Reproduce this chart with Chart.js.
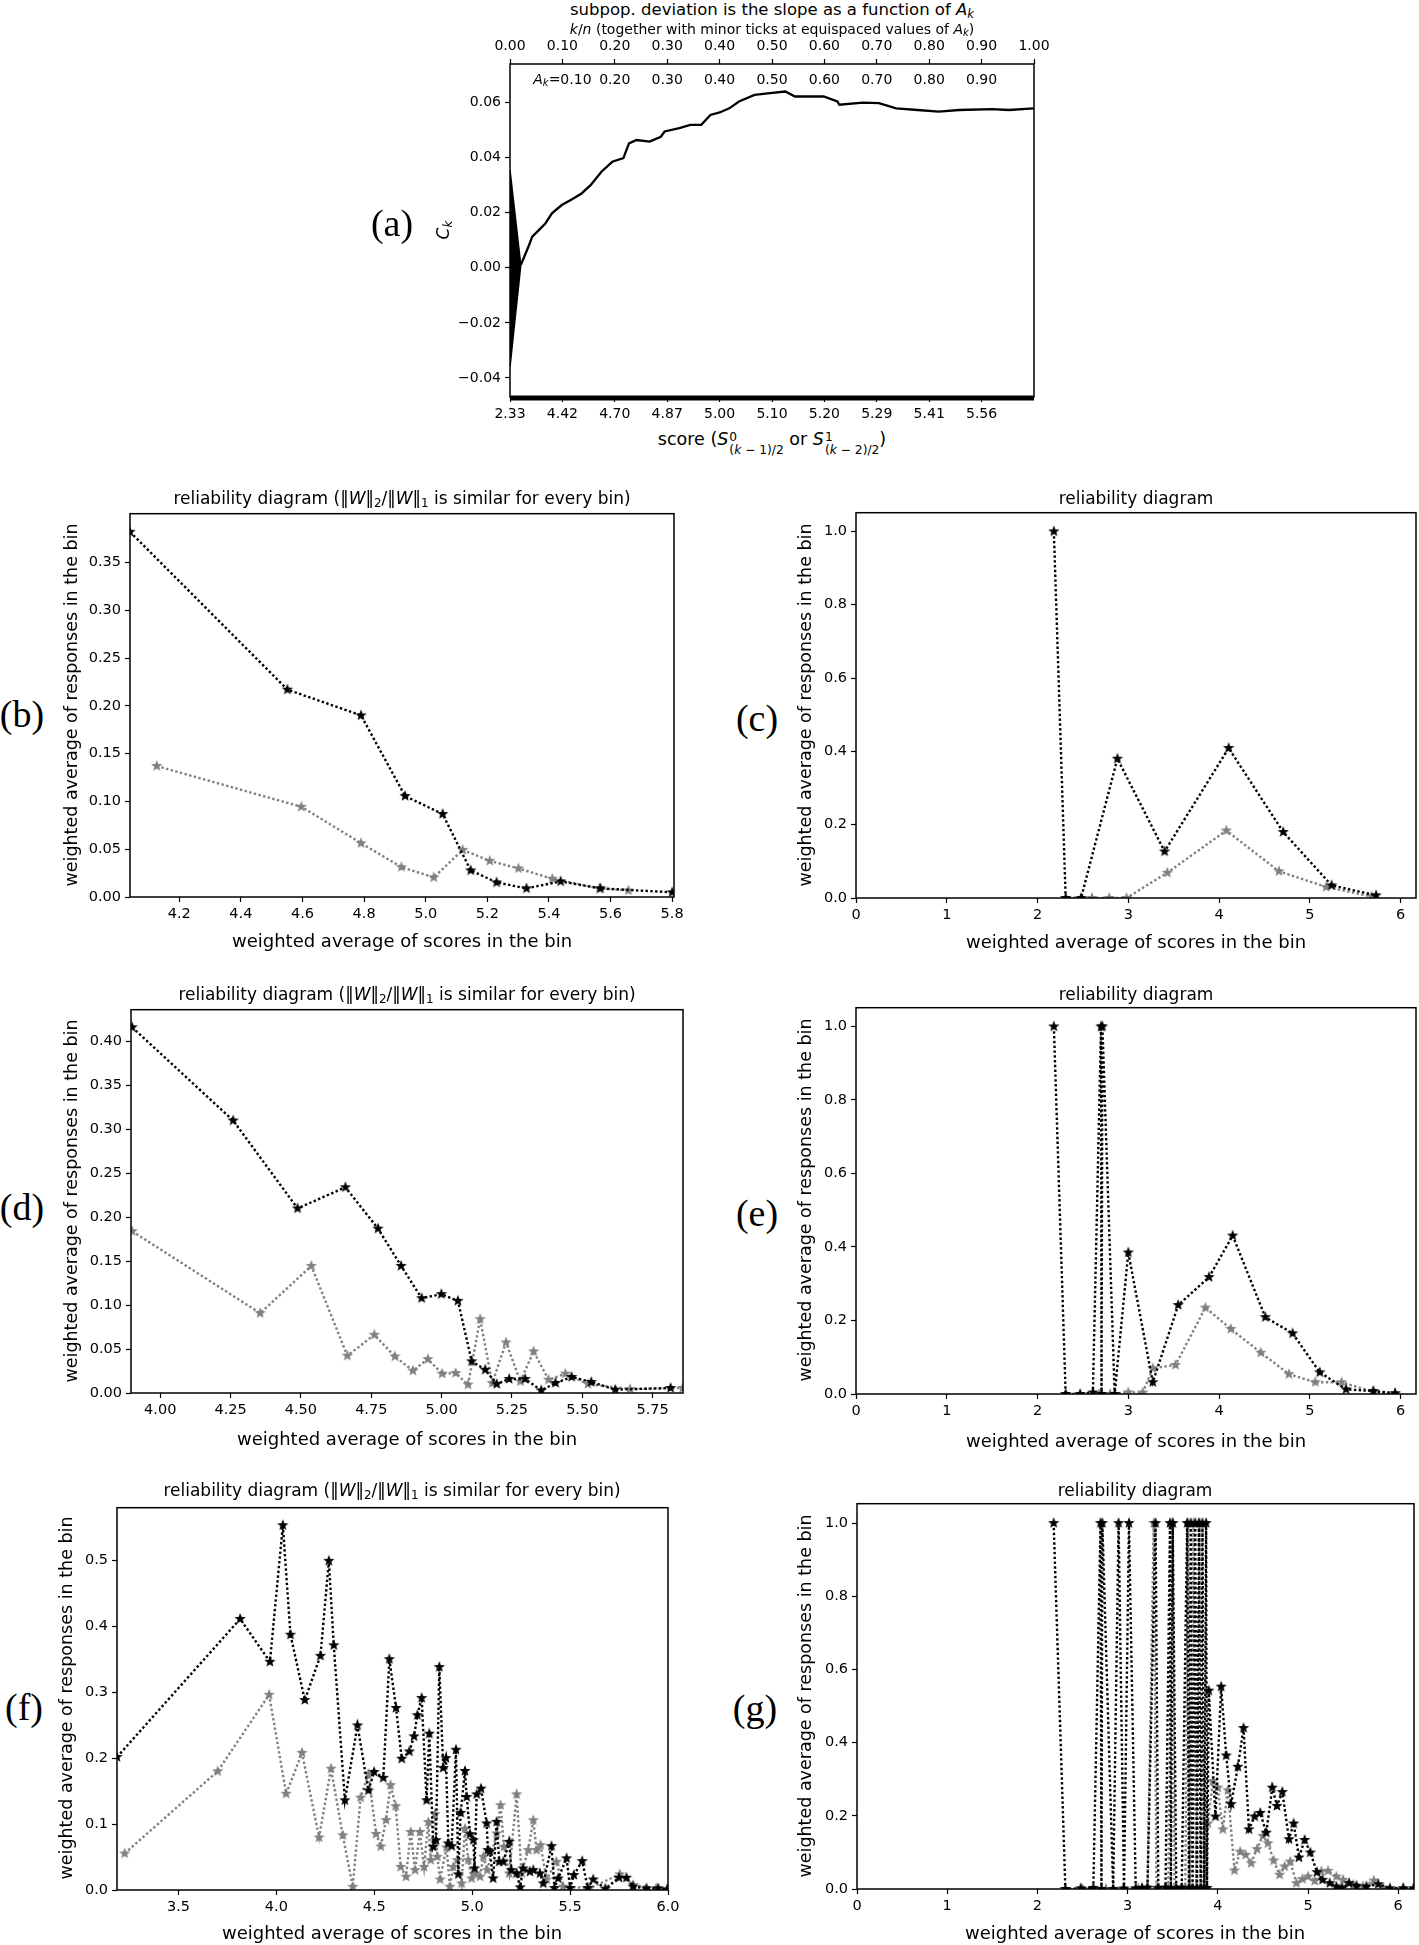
<!DOCTYPE html>
<html>
<head>
<meta charset="utf-8">
<title>subpopulation deviation and reliability diagrams</title>
<script src="https://cdn.jsdelivr.net/npm/chart.js@4.4.1/dist/chart.umd.min.js"></script>
<style>
  html, body { margin: 0; padding: 0; background: #fff; }
  #page { position: relative; width: 1419px; height: 1945px; overflow: hidden; font-family: "DejaVu Sans", sans-serif; color: #000; }
  #page canvas { position: absolute; }
  .txt { position: absolute; white-space: nowrap; line-height: 1; transform: translate(-50%, -50%); }
  .rot { transform: translate(-50%, -50%) rotate(-90deg); }
  .tag { font-family: "Liberation Serif", "DejaVu Serif", serif; font-size: 38px; }
  .sub { font-size: 0.7em; vertical-align: -0.28em; }
  .ss { display: inline-flex; flex-direction: column; font-size: 0.7em; line-height: 1; vertical-align: 0.3em; margin-left: 1px; }
</style>
</head>
<body>
<div id="page"></div>
<script>
// ---- (a) cumulative plot ----
const aKn = [0.0206, 0.0363, 0.0425, 0.055, 0.0675, 0.08, 0.0988, 0.1193, 0.1366, 0.1538, 0.1745, 0.1952,
  0.2164, 0.2271, 0.2414, 0.2664, 0.2879, 0.295, 0.3231, 0.3441, 0.365, 0.3825, 0.4, 0.4185, 0.437, 0.4667,
  0.4963, 0.5255, 0.5438, 0.5693, 0.5985, 0.6248, 0.6286, 0.6737, 0.7041, 0.7369, 0.7779, 0.818, 0.857,
  0.92, 0.952, 1.0];
const aCk = [0.001, 0.0082, 0.0113, 0.0137, 0.0161, 0.0198, 0.0228, 0.025, 0.027, 0.030, 0.0349, 0.0385,
  0.0398, 0.0452, 0.0464, 0.0458, 0.0476, 0.0495, 0.0507, 0.0519, 0.0519, 0.0555, 0.0564, 0.0579, 0.0604, 0.0628,
  0.0634, 0.064, 0.0622, 0.0622, 0.0622, 0.0604, 0.0592, 0.06, 0.0598, 0.0579, 0.0573, 0.0567, 0.0573,
  0.0576, 0.0573, 0.0579];
// the dense oscillation at the very start shows as a solid wedge
const aWedgeKn = [0, 0.0206];
const aWedgeTop = [0.0355, 0.001];
const aWedgeBottom = [-0.036, 0.001];
const aTopTicks = [0, 0.1, 0.2, 0.3, 0.4, 0.5, 0.6, 0.7, 0.8, 0.9, 1.0];
const aBottomTicks = [0, 0.1, 0.2, 0.3, 0.4, 0.5, 0.6, 0.7, 0.8, 0.9];
const aBottomLabels = ['2.33', '4.42', '4.70', '4.87', '5.00', '5.10', '5.20', '5.29', '5.41', '5.56'];
const aMinorPos = [0.1, 0.2, 0.3, 0.4, 0.5, 0.6, 0.7, 0.8, 0.9];
const aMinorLabels = ['0.10', '0.20', '0.30', '0.40', '0.50', '0.60', '0.70', '0.80', '0.90'];
const aYTicks = [-0.04, -0.02, 0, 0.02, 0.04, 0.06];

// ---- (b) ----
const bBlackX = [4.04, 4.551, 4.79, 4.933, 5.055, 5.146, 5.230, 5.327, 5.438, 5.567, 5.80];
const bBlackY = [0.382, 0.217, 0.190, 0.1056, 0.0868, 0.0278, 0.0153, 0.009, 0.0163, 0.009, 0.0049];
const bGrayX = [4.127, 4.596, 4.79, 4.921, 5.026, 5.12, 5.208, 5.301, 5.411, 5.564, 5.658];
const bGrayY = [0.137, 0.0944, 0.0563, 0.0313, 0.0205, 0.0493, 0.0378, 0.0299, 0.0191, 0.009, 0.0069];
const bTicksX = [4.2, 4.4, 4.6, 4.8, 5.0, 5.2, 5.4, 5.6, 5.8];
const bTicksY = [0, 0.05, 0.10, 0.15, 0.20, 0.25, 0.30, 0.35];

// ---- (c) ----
const cBlackX = [2.18, 2.31, 2.48, 2.88, 3.40, 4.106, 4.707, 5.24, 5.73];
const cBlackY = [1.0, 0.0, 0.0, 0.38, 0.127, 0.409, 0.18, 0.0345, 0.0073];
const cGrayX = [2.60, 2.79, 2.98, 3.43, 4.08, 4.66, 5.18, 5.68];
const cGrayY = [0.0, 0.0, 0.0, 0.069, 0.184, 0.073, 0.030, 0.0045];

// ---- (d) ----
const dBlackX = [3.90, 4.259, 4.488, 4.658, 4.774, 4.856, 4.929, 4.999, 5.058, 5.107, 5.155, 5.196, 5.24,
  5.297, 5.354, 5.405, 5.462, 5.532, 5.617, 5.814];
const dBlackY = [0.416, 0.310, 0.210, 0.234, 0.187, 0.1446, 0.1079, 0.1124, 0.1048, 0.036, 0.0265, 0.0102,
  0.0159, 0.0159, 0.003, 0.0114, 0.0182, 0.0125, 0.0038, 0.0057];
const dGrayX = [3.90, 4.355, 4.537, 4.665, 4.761, 4.834, 4.898, 4.951, 5.002, 5.05, 5.094, 5.137, 5.18, 5.229,
  5.28, 5.327, 5.38, 5.44, 5.52, 5.67, 5.857];
const dGrayY = [0.184, 0.0908, 0.1446, 0.0424, 0.0662, 0.0416, 0.0254, 0.0386, 0.022, 0.0227, 0.0095, 0.084,
  0.0114, 0.0575, 0.0132, 0.0473, 0.0151, 0.022, 0.0102, 0.0045, 0.0057];
const dTicksX = [4.00, 4.25, 4.50, 4.75, 5.00, 5.25, 5.50, 5.75];
const dTicksY = [0, 0.05, 0.10, 0.15, 0.20, 0.25, 0.30, 0.35, 0.40];

// ---- (e) ----
const eBlackX = [2.18, 2.31, 2.47, 2.61, 2.70, 2.705, 2.715, 2.85, 3.00, 3.27, 3.55, 3.89, 4.15, 4.51, 4.81,
  5.11, 5.40, 5.70, 5.94];
const eBlackY = [1.0, 0.0, 0.0, 0.004, 1.0, 0.0, 1.0, 0.0, 0.385, 0.032, 0.242, 0.318, 0.431, 0.209, 0.165,
  0.059, 0.0127, 0.008, 0.002];
const eGrayX = [2.68, 2.80, 3.00, 3.16, 3.27, 3.52, 3.85, 4.13, 4.46, 4.77, 5.06, 5.35, 5.70, 5.94];
const eGrayY = [0.0, 0.0, 0.0045, 0.004, 0.07, 0.079, 0.235, 0.177, 0.1125, 0.054, 0.032, 0.032, 0.006, 0.002];

// ---- (f) ----
const fBlackX = [3.186, 3.815, 3.967, 4.033, 4.072, 4.145, 4.225, 4.268, 4.293, 4.35, 4.414, 4.47, 4.499,
  4.546, 4.577, 4.611, 4.64, 4.679, 4.703, 4.72, 4.742, 4.767, 4.781, 4.801, 4.815, 4.832, 4.852, 4.866,
  4.878, 4.895, 4.917, 4.929, 4.941, 4.963, 4.972, 4.989, 5.006, 5.012, 5.023, 5.045, 5.074, 5.080, 5.09,
  5.107, 5.125, 5.138, 5.159, 5.189, 5.2, 5.227, 5.245, 5.26, 5.295, 5.312, 5.346, 5.363, 5.405, 5.42,
  5.439, 5.482, 5.50, 5.519, 5.562, 5.59, 5.618, 5.68, 5.75, 5.788, 5.822, 5.89, 5.95, 5.995];
const fBlackY = [0.2016, 0.411, 0.346, 0.553, 0.387, 0.288, 0.355, 0.499, 0.371, 0.136, 0.2495, 0.151, 0.179,
  0.170, 0.350, 0.276, 0.199, 0.210, 0.233, 0.265, 0.291, 0.136, 0.237, 0.0655, 0.0756, 0.338, 0.185, 0.2,
  0.0706, 0.0665, 0.2127, 0.0237, 0.117, 0.1805, 0.141, 0.0847, 0.0756, 0.0327, 0.145, 0.1537, 0.101, 0.0605, 0.058,
  0.0176, 0.1033, 0.0428, 0.0428, 0.073, 0.0302, 0.0252, 0.004, 0.0327, 0.0277, 0.0302, 0.0252, 0.01, 0.0665, 0.003,
  0.0176, 0.048, 0.003, 0.0227, 0.0438, 0.003, 0.016, 0.002, 0.0186, 0.0186, 0.005, 0.0025, 0.0025, 0.001];
const fGrayX = [3.225, 3.70, 3.963, 4.05, 4.131, 4.218, 4.279, 4.339, 4.39, 4.43, 4.47, 4.509, 4.533, 4.56,
  4.583, 4.609, 4.635, 4.662, 4.686, 4.708, 4.733, 4.754, 4.776, 4.788, 4.81, 4.822, 4.836, 4.869, 4.886,
  4.903, 4.924, 4.946, 4.963, 4.98, 4.997, 5.014, 5.04, 5.057, 5.077, 5.125, 5.145, 5.162, 5.189, 5.227,
  5.252, 5.286, 5.312, 5.329, 5.349, 5.38, 5.43, 5.465, 5.60, 5.754, 5.822, 5.94];
const fGrayY = [0.0554, 0.18, 0.296, 0.146, 0.208, 0.0796, 0.184, 0.083, 0.005, 0.14, 0.176, 0.085, 0.066, 0.106,
  0.159, 0.127, 0.035, 0.0202, 0.088, 0.0302, 0.088, 0.035, 0.103, 0.0453, 0.115, 0.0504, 0.016, 0.0645, 0.005,
  0.035, 0.0453, 0.01, 0.093, 0.0453, 0.0176, 0.0252, 0.0202, 0.0504, 0.0302, 0.0857, 0.1285, 0.0655, 0.0252, 0.145,
  0.0252, 0.0605, 0.1058, 0.0605, 0.068, 0.016, 0.0428, 0.005, 0.003, 0.0237, 0.0076, 0.0025];
const fTicksX = [3.5, 4.0, 4.5, 5.0, 5.5, 6.0];
const fTicksY = [0, 0.1, 0.2, 0.3, 0.4, 0.5];

// ---- (g) ----
const gBlackX = [2.18, 2.31, 2.48, 2.62, 2.70, 2.71, 2.72, 2.84, 2.90, 2.96, 3.015, 3.09, 3.16, 3.22, 3.31,
  3.34, 3.42, 3.47, 3.48, 3.50, 3.54, 3.60, 3.66, 3.68, 3.70, 3.72, 3.75, 3.77, 3.79, 3.81, 3.83, 3.85, 3.87,
  3.88, 3.90, 3.974, 4.037, 4.093, 4.148, 4.222, 4.285, 4.345, 4.408, 4.47, 4.537, 4.604, 4.656, 4.715, 4.789,
  4.841, 4.9, 4.963, 5.026, 5.1, 5.16, 5.241, 5.315, 5.38, 5.456, 5.537, 5.648, 5.778, 5.908, 6.056, 6.17];
const gBlackY = [1.0, 0.0, 0.002, 0.003, 1.0, 0.0, 1.0, 0.0, 1.0, 0.001, 1.0, 0.002, 0.003, 0.004, 1.0,
  0.003, 0.004, 1.0, 0.002, 1.0, 0.003, 0.004, 1.0, 0.002, 1.0, 0.003, 1.0, 0.002, 1.0, 0.003, 1.0, 0.002, 1.0,
  0.003, 0.542, 0.198, 0.553, 0.365, 0.232, 0.334, 0.440, 0.163, 0.198, 0.208, 0.154, 0.277, 0.227, 0.265, 0.136,
  0.179, 0.086, 0.134, 0.0996, 0.046, 0.025, 0.016, 0.007, 0.003, 0.016, 0.009, 0.007, 0.013, 0.002, 0.002, 0.002];
const gGrayX = [2.50, 2.76, 2.95, 3.12, 3.22, 3.29, 3.32, 3.45, 3.50, 3.52, 3.64, 3.67, 3.69, 3.73, 3.76, 3.80,
  3.84, 3.889, 3.945, 4.0, 4.056, 4.111, 4.185, 4.248, 4.308, 4.37, 4.434, 4.5, 4.556, 4.619, 4.685, 4.741,
  4.804, 4.871, 4.937, 5.0, 5.074, 5.148, 5.222, 5.315, 5.389, 5.5, 5.611, 5.73, 5.833, 6.056];
const gGrayY = [0.0, 0.0, 0.002, 0.002, 0.003, 1.0, 0.002, 0.003, 1.0, 0.002, 0.003, 1.0, 0.002, 1.0, 0.003, 1.0,
  0.002, 0.179, 0.295, 0.277, 0.163, 0.27, 0.0506, 0.102, 0.0933, 0.0706, 0.109, 0.145, 0.125, 0.078, 0.039, 0.0615,
  0.075, 0.016, 0.027, 0.034, 0.022, 0.048, 0.0496, 0.034, 0.025, 0.0115, 0.007, 0.023, 0.004, 0.002];

// shared axes of the right column
const fullTicksX = [0, 1, 2, 3, 4, 5, 6];
const fullTicksY = [0, 0.2, 0.4, 0.6, 0.8, 1.0];

const GRAY = '#808080';
const TICK_FONT = { family: 'DejaVu Sans', size: 14.5 };
Chart.defaults.font.family = 'DejaVu Sans';

const page = document.getElementById('page');

function text(html, x, y, size, cls) {
  const d = document.createElement('div');
  d.className = 'txt' + (cls ? ' ' + cls : '');
  d.style.left = x + 'px';
  d.style.top = y + 'px';
  if (size) d.style.fontSize = size + 'px';
  d.innerHTML = html;
  page.appendChild(d);
}

function starImage(color, r) {
  const c = document.createElement('canvas');
  const s = Math.ceil(2 * r + 2);
  c.width = s; c.height = s;
  const g = c.getContext('2d');
  g.fillStyle = color;
  g.beginPath();
  for (let i = 0; i < 10; i++) {
    const rad = i % 2 === 0 ? r : r * 0.42;
    const ang = -Math.PI / 2 + i * Math.PI / 5;
    const px = s / 2 + rad * Math.cos(ang), py = s / 2 + rad * Math.sin(ang);
    if (i === 0) g.moveTo(px, py); else g.lineTo(px, py);
  }
  g.closePath();
  g.fill();
  return c;
}
const starBlack = starImage('#000', 6);
const starGray = starImage(GRAY, 6);

const frame = {
  id: 'frame',
  afterDatasetsDraw(chart) {
    const { ctx, chartArea: a } = chart;
    ctx.save();
    ctx.strokeStyle = '#000';
    ctx.lineWidth = 1.5;
    ctx.strokeRect(a.left, a.top, a.right - a.left, a.bottom - a.top);
    ctx.restore();
  }
};

function pts(xs, ys) {
  return xs.map((x, i) => ({ x, y: ys[i] }));
}

function axis(min, max, values, fmt, fit, extra) {
  return Object.assign({
    type: 'linear', min, max,
    afterBuildTicks: s => { s.ticks = values.map(v => ({ value: v })); },
    afterFit: fit,
    ticks: { autoSkip: false, maxRotation: 0, minRotation: 0, font: TICK_FONT, color: '#000', padding: 4, callback: fmt },
    grid: { drawOnChartArea: false, drawTicks: true, tickLength: 5, tickColor: '#000', tickWidth: 1.2 },
    border: { display: false }
  }, extra || {});
}

function series(data, color, star) {
  return {
    data, borderColor: color, backgroundColor: color, borderWidth: 2.4, borderDash: [2.4, 2.4],
    pointStyle: star, pointRadius: 5, pointBorderWidth: 0, fill: false, tension: 0
  };
}

function reliability(box, xr, yr, xt, xd, yt, yd, black, gray) {
  const PL = 60, PT = 12, PR = 22, PB = 40;
  const cv = document.createElement('canvas');
  cv.width = box.r - box.l + PL + PR;
  cv.height = box.b - box.t + PT + PB;
  cv.style.left = (box.l - PL) + 'px';
  cv.style.top = (box.t - PT) + 'px';
  page.appendChild(cv);
  new Chart(cv, {
    type: 'line',
    data: { datasets: [series(black, '#000', starBlack), series(gray, GRAY, starGray)] },
    options: {
      responsive: false, animation: false, devicePixelRatio: 1,
      layout: { padding: { left: 0, top: PT, right: PR, bottom: 0 } },
      plugins: { legend: { display: false }, tooltip: { enabled: false } },
      scales: {
        x: axis(xr[0], xr[1], xt, v => v.toFixed(xd), s => { s.height = PB; }),
        y: axis(yr[0], yr[1], yt, v => v.toFixed(yd), s => { s.width = PL; })
      }
    },
    plugins: [frame]
  });
}

// ---- panel (a) ----
(function () {
  const box = { l: 510, r: 1034, t: 64, b: 397 };
  const PL = 80, PT = 28, PR = 30, PB = 28;
  const cv = document.createElement('canvas');
  cv.width = box.r - box.l + PL + PR;
  cv.height = box.b - box.t + PT + PB;
  cv.style.left = (box.l - PL) + 'px';
  cv.style.top = (box.t - PT) + 'px';
  page.appendChild(cv);

  const minorLabels = {
    id: 'minorLabels',
    afterDatasetsDraw(chart) {
      const ctx = chart.ctx, sc = chart.scales.x2, y = chart.chartArea.top + 16;
      ctx.save();
      ctx.fillStyle = '#000';
      ctx.textAlign = 'left';
      ctx.textBaseline = 'middle';
      aMinorPos.forEach((v, i) => {
        const runs = i === 0
          ? [['A', 'italic 14px "DejaVu Sans"', 0], ['k', 'italic 10px "DejaVu Sans"', 3], ['=' + aMinorLabels[i], '14px "DejaVu Sans"', 0]]
          : [[aMinorLabels[i], '14px "DejaVu Sans"', 0]];
        let w = 0;
        runs.forEach(r => { ctx.font = r[1]; w += ctx.measureText(r[0]).width; });
        let x = sc.getPixelForValue(v) - w / 2;
        runs.forEach(r => { ctx.font = r[1]; ctx.fillText(r[0], x, y + r[2]); x += ctx.measureText(r[0]).width; });
      });
      ctx.restore();
    }
  };
  // many tiny score ticks along the bottom edge merge into a band
  const scoreRug = {
    id: 'scoreRug',
    afterDatasetsDraw(chart) {
      const { ctx, chartArea: a } = chart;
      ctx.save();
      ctx.fillStyle = '#000';
      ctx.fillRect(a.left, a.bottom - 1.5, a.right - a.left, 5);
      ctx.restore();
    }
  };
  const fmtY = v => (v < 0 ? '\u2212' + Math.abs(v).toFixed(2) : v.toFixed(2));
  const aTickFont = { family: 'DejaVu Sans', size: 14 };
  const xa = axis(0, 1, aBottomTicks, (v, i) => aBottomLabels[i], s => { s.height = PB; });
  const xt = axis(0, 1, aTopTicks, v => v.toFixed(2), s => { s.height = PT; }, { position: 'top' });
  const ya = axis(-0.0469, 0.0740, aYTicks, fmtY, s => { s.width = PL; });
  [xa, xt, ya].forEach(o => { o.ticks.font = aTickFont; });

  new Chart(cv, {
    type: 'line',
    data: {
      datasets: [
        { data: pts(aKn, aCk), borderColor: '#000', borderWidth: 2.3, pointRadius: 0, fill: false, tension: 0 },
        { data: pts(aWedgeKn, aWedgeTop), borderColor: '#000', backgroundColor: '#000', borderWidth: 1.5, pointRadius: 0, fill: '+1', tension: 0 },
        { data: pts(aWedgeKn, aWedgeBottom), borderColor: '#000', borderWidth: 1.5, pointRadius: 0, fill: false, tension: 0 }
      ]
    },
    options: {
      responsive: false, animation: false, devicePixelRatio: 1,
      layout: { padding: { left: 0, top: 0, right: PR, bottom: 0 } },
      plugins: { legend: { display: false }, tooltip: { enabled: false } },
      scales: { x: xa, x2: xt, y: ya }
    },
    plugins: [scoreRug, minorLabels, frame]
  });

  text('subpop. deviation is the slope as a function of <i>A</i><span class="sub"><i>k</i></span>', 772, 11, 16.5);
  text('<i>k</i>/<i>n</i> (together with minor ticks at equispaced values of <i>A</i><span class="sub"><i>k</i></span>)', 772, 30, 14);
  text('<i>C</i><span class="sub"><i>k</i></span>', 445, 230, 17, 'rot');
  text('(a)', 392, 223, null, 'tag');
  text('score (<i>S</i><span class="ss"><span>0</span><span>(<i>k</i> \u2212 1)/2</span></span> or ' +
       '<i>S</i><span class="ss"><span>1</span><span>(<i>k</i> \u2212 2)/2</span></span>)', 772, 443, 17.5);
})();

// ---- panels (b)-(g) ----
const RELI_W = 'reliability diagram (\u2016<i>W</i>\u2016<span class="sub">2</span>/\u2016<i>W</i>\u2016<span class="sub">1</span> is similar for every bin)';
const RELI = 'reliability diagram';
const YLAB = 'weighted average of responses in the bin';
const XLAB = 'weighted average of scores in the bin';

reliability({ l: 130, r: 674, t: 513, b: 897 }, [4.04, 5.806], [0, 0.401], bTicksX, 1, bTicksY, 2,
  pts(bBlackX, bBlackY), pts(bGrayX, bGrayY));
reliability({ l: 856, r: 1416, t: 512, b: 898 }, [0, 6.17], [0, 1.051], fullTicksX, 0, fullTicksY, 1,
  pts(cBlackX, cBlackY), pts(cGrayX, cGrayY));
reliability({ l: 131, r: 683, t: 1009, b: 1393 }, [3.896, 5.858], [0, 0.436], dTicksX, 2, dTicksY, 2,
  pts(dBlackX, dBlackY), pts(dGrayX, dGrayY));
reliability({ l: 856, r: 1416, t: 1007, b: 1394 }, [0, 6.17], [0, 1.051], fullTicksX, 0, fullTicksY, 1,
  pts(eBlackX, eBlackY), pts(eGrayX, eGrayY));
reliability({ l: 117, r: 668, t: 1507, b: 1890 }, [3.186, 6.0], [0, 0.5796], fTicksX, 1, fTicksY, 1,
  pts(fBlackX, fBlackY), pts(fGrayX, fGrayY));
reliability({ l: 857, r: 1414, t: 1503, b: 1889 }, [0, 6.175], [0, 1.053], fullTicksX, 0, fullTicksY, 1,
  pts(gBlackX, gBlackY), pts(gGrayX, gGrayY));

const labels = [
  // title, title x, title y, ylabel x, ylabel y, xlabel y, tag, tag x, tag y
  [RELI_W, 402, 500, 72, 705, 941, '(b)', 22, 714],
  [RELI, 1136, 498, 806, 705, 942, '(c)', 757, 718],
  [RELI_W, 407, 996, 72, 1201, 1439, '(d)', 22, 1207],
  [RELI, 1136, 994, 806, 1200, 1441, '(e)', 757, 1213],
  [RELI_W, 392, 1492, 67, 1698, 1933, '(f)', 24, 1707],
  [RELI, 1135, 1490, 806, 1696, 1933, '(g)', 755, 1708]
];
labels.forEach(l => {
  text(l[0], l[1], l[2], 17);
  text(YLAB, l[3], l[4], 17.5, 'rot');
  text(XLAB, l[1], l[5], 18);
  text(l[6], l[7], l[8], null, 'tag');
});
</script>
</body>
</html>
